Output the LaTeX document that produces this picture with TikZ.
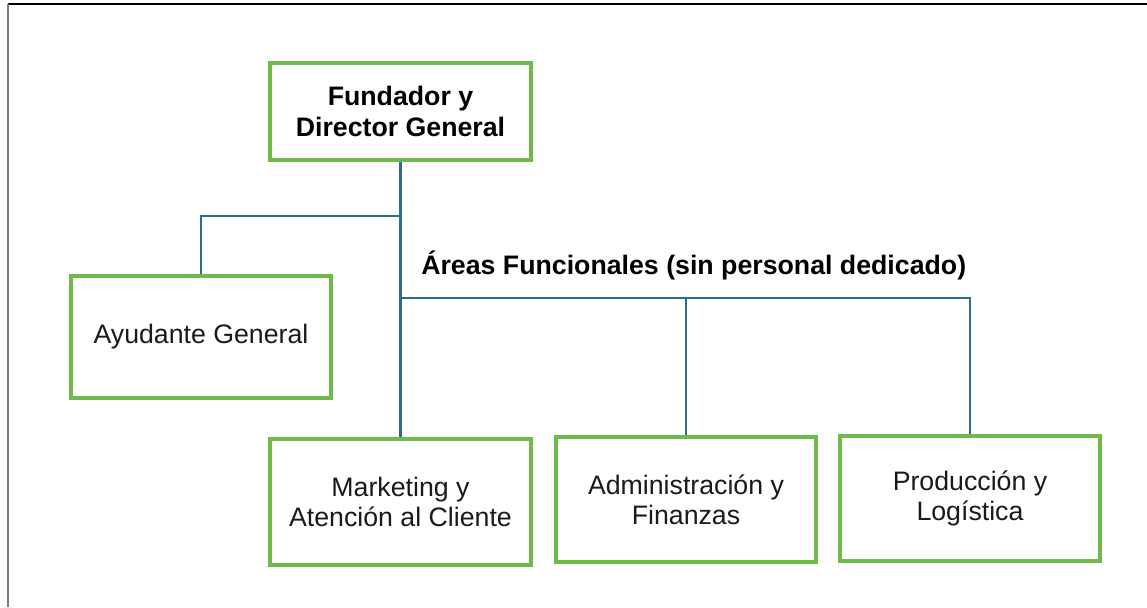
\documentclass[tikz,border=0pt]{standalone}
\usepackage{fontspec}
\setmainfont{Liberation Sans}
\definecolor{ocText}{HTML}{1A1A1A}
\definecolor{ocGreen}{HTML}{6FBA4B}
\definecolor{ocBlue}{HTML}{2E6C8C}
\definecolor{ocFrame}{HTML}{7A7A7A}
\usetikzlibrary{calc,positioning}
\tikzset{
  unitbox/.style={draw=ocGreen, line width=2.3pt, fill=white, align=center, text=ocText,
    font=\fontsize{19}{21.5}\selectfont, inner sep=0pt},
  link/.style={draw=ocBlue, line width=1.7pt},
}
\begin{document}
\begin{tikzpicture}[x=0.025cm, y=0.025cm]
  \useasboundingbox (0,0) rectangle (1147,607);
  \draw[black, line width=1.2pt] (8,603) -- (1147,603);
  \draw[ocFrame, line width=1.4pt] (8,603) -- (8,0);
  \node[unitbox, minimum width=6.525cm, minimum height=2.425cm, font=\fontsize{19}{21.5}\selectfont\bfseries, text=black] (fund) at (400.5,495.5) {Fundador y\\Director General};
  \node[unitbox, minimum width=6.5cm, minimum height=3.05cm] (ayu) at (201,270) {Ayudante General};
  \node[unitbox, minimum width=6.525cm, minimum height=3.15cm] (mkt) at (400.5,105) {Marketing y\\Atenci\'on al Cliente};
  \node[unitbox, minimum width=6.5cm, minimum height=3.125cm] (adm) at (686,107.5) {Administraci\'on y\\Finanzas};
  \node[unitbox, minimum width=6.5cm, minimum height=3.125cm] (prod) at (970,108.5) {Producci\'on y\\Log\'istica};
  \node[anchor=west, inner sep=0pt, font=\fontsize{19}{21.5}\selectfont\bfseries, text=black] (areas) at (421,342) {Áreas Funcionales (sin personal dedicado)};
  \coordinate (hub) at (400.5,391);
  \coordinate (bus) at (400.5,309);
  \draw[link, line width=2.3pt] (fund.south) -- (bus);
  \draw[link] (hub) -| (ayu.north);
  \draw[link, line width=2.3pt] (bus) -- (mkt.north);
  \draw[link] (bus) -| (adm.north);
  \draw[link] (bus) -| (prod.north);
\end{tikzpicture}
\end{document}
